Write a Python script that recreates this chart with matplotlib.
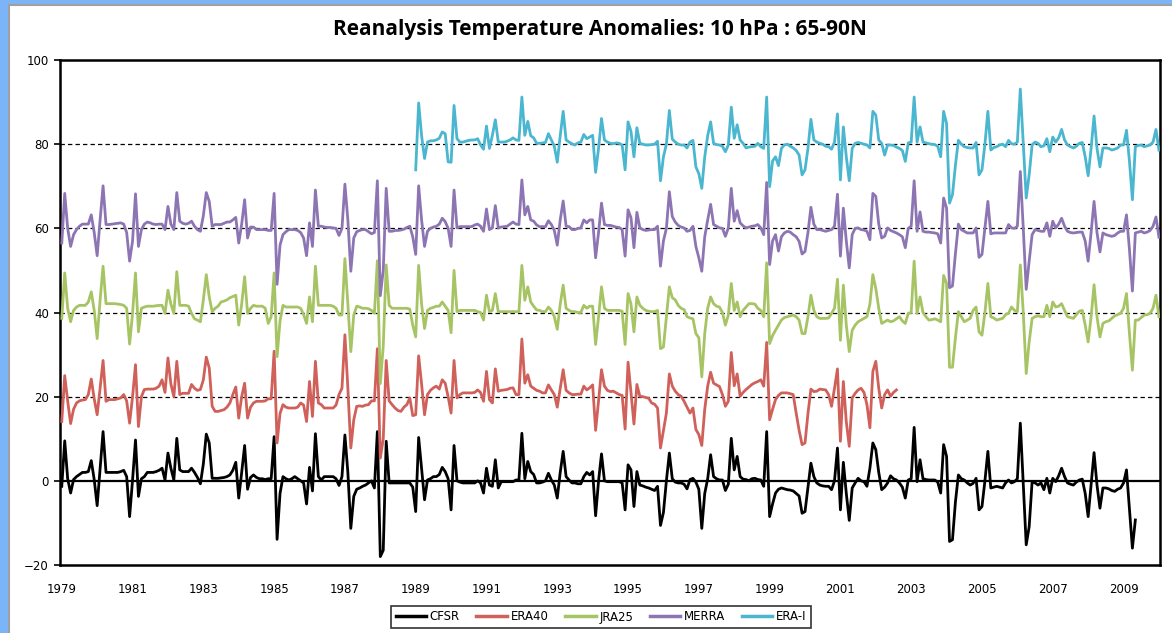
import numpy as np
import matplotlib
matplotlib.use("Agg")
import matplotlib.pyplot as plt
from matplotlib.patches import Rectangle

# monthly 10 hPa temperature anomalies (K), 65-90N
# CFSR: Jan 1979 - May 2009
cfsr = [
    -1.3, 9.5, 0.5, -2.9, 0.3, 1.0, 1.5, 2.0, 2.0, 2.2, 4.8, 0.3,
    -5.9, 3.0, 11.7, 2.0, 2.0, 2.0, 2.0, 2.0, 2.2, 2.5, 1.0, -8.5,
    0.2, 9.7, -3.7, 0.5, 1.0, 2.0, 2.0, 2.0, 2.2, 2.5, 3.0, 0.2,
    6.6, 3.0, 0.2, 10.1, 2.6, 2.2, 2.2, 2.2, 3.0, 2.0, 0.8, -0.7,
    4.0, 11.1, 9.0, 0.6, 0.6, 0.6, 0.7, 0.8, 1.0, 1.4, 2.5, 4.4,
    -4.1, 2.0, 8.4, -2.0, 0.8, 1.4, 0.8, 0.5, 0.5, 0.3, 0.5, 0.5,
    10.5, -13.9, -3.0, 1.0, 0.5, 0.2, 0.5, 1.0, 0.5, 0.0, -0.5, -5.5,
    3.2, -2.4, 11.2, 1.0, 0.2, 1.0, 1.0, 1.0, 1.0, 0.5, -1.1, 1.0,
    10.9, 2.0, -11.3, -3.7, -2.0, -1.7, -1.3, -1.0, -0.5, 0.0, -1.7, 11.7,
    -18.0, -16.5, 9.4, -0.5, -0.5, -0.5, -0.5, -0.5, -0.5, -0.5, -0.5, -1.5,
    -7.3, 10.3, 3.0, -4.5, 0.2, 0.5, 1.0, 1.0, 1.5, 3.2, 2.2, 0.5,
    -6.9, 8.4, 0.0, -0.3, -0.5, -0.5, -0.5, -0.5, -0.5, 0.0, -0.5, -2.9,
    3.0, -1.0, -1.3, 5.0, -1.7, -0.2, -0.2, -0.2, -0.2, -0.2, 0.2, 0.2,
    11.3, 0.5, 4.6, 2.2, 1.5, -0.5, -0.5, -0.3, 0.0, 1.8, 0.2, -1.0,
    -4.1, 2.0, 7.0, 1.0, 0.2, -0.5, -0.5, -0.7, -0.7, 1.0, 2.0, 1.4,
    2.2, -8.3, 0.0, 6.4, 0.0, -0.2, -0.2, -0.2, -0.2, -0.2, -0.5, -6.9,
    3.8, 2.6, -6.1, 2.2, -1.0, -1.2, -1.5, -1.7, -2.0, -2.3, -1.3, -10.6,
    -7.5, 0.0, 6.6, 0.5, -0.3, -0.5, -0.5, -0.8, -1.9, 0.3, 0.6, -0.3,
    -2.0, -11.3, -3.0, 0.5, 6.2, 1.0, 0.5, 0.2, 0.2, -2.3, -0.8, 10.1,
    2.6, 5.8, 1.0, 0.4, 0.3, 0.0, 0.5, 0.6, 0.3, 0.2, -1.3, 11.7,
    -8.5, -5.5, -2.9, -2.0, -1.7, -1.9, -2.1, -2.2, -2.4, -3.0, -3.6, -7.7,
    -7.3, -1.5, 4.2, 1.0, -0.5, -1.0, -1.2, -1.3, -1.3, -2.1, 0.0, 7.8,
    -6.9, 4.4, -3.0, -9.4, -1.7, -0.5, 0.6, 0.0, -0.2, -1.3, 3.0, 9.0,
    7.4, 2.0, -2.1, -1.5, -0.5, 1.2, 0.5, 0.2, -0.5, -1.5, -4.1, 0.2,
    0.5, 12.7, -0.2, 5.0, 0.5, 0.3, 0.2, 0.2, 0.2, -0.3, -2.9, 8.6,
    5.8, -14.4, -14.0, -5.0, 1.4, 0.5, 0.2, -0.5, -1.0, -0.6, 0.6, -6.9,
    -6.1, 0.0, 7.0, -1.7, -1.5, -1.3, -1.5, -1.7, -0.5, 0.2, -0.5, -0.2,
    0.5, 13.7, -0.8, -15.2, -10.9, -0.2, -0.5, -1.0, -0.5, -2.1, 0.6, -2.9,
    0.6, -0.2, 1.2, 3.0, 1.0, -0.5, -0.8, -1.0, -0.3, 0.2, 0.4, -3.0,
    -8.5, -1.0, 6.7, -1.0, -6.5, -1.7, -1.7, -1.9, -2.3, -2.5, -2.0, -1.7,
    -0.5, 2.6, -6.7, -16.0, -9.3,
]

# ERA40: Jan 1979 - Aug 2002
era40 = [
    -5.9, 5.0, -1.0, -6.4, -3.0, -1.5, -1.0, -0.8, -0.7, 0.5, 4.2, -0.5,
    -4.3, 2.0, 8.6, -1.1, -0.7, -0.7, -0.7, -0.5, -0.3, 0.5, -1.0, -6.3,
    0.0, 7.6, -7.1, 0.0, 1.7, 1.8, 1.8, 1.8, 2.0, 2.5, 4.0, 1.0,
    9.2, 3.0, 0.0, 8.4, 0.5, 0.8, 0.8, 0.8, 2.9, 2.0, 1.5, 1.7,
    4.0, 9.4, 6.8, -2.3, -3.5, -3.5, -3.3, -3.1, -2.5, -1.5, 0.5, 2.3,
    -5.1, 0.0, 3.2, -5.1, -2.5, -1.5, -1.1, -1.1, -1.1, -1.0, -0.5, -0.5,
    10.8, -11.0, -4.0, -1.9, -2.5, -2.7, -2.7, -2.7, -2.5, -1.5, -2.0, -5.9,
    3.6, -4.7, 8.4, -1.5, -1.9, -2.7, -2.7, -2.7, -2.7, -2.0, 0.5, 2.0,
    14.7, 2.0, -12.2, -5.5, -2.3, -2.2, -2.3, -2.0, -1.9, -1.0, -1.0, 11.4,
    -14.6, -10.0, 8.6, -1.0, -1.9, -2.7, -3.3, -3.5, -2.5, -1.9, -0.3, -4.5,
    -4.3, 9.7, 3.0, -4.3, 0.5, 1.5, 2.1, 2.5, 1.8, 4.0, 3.2, 0.0,
    -3.9, 8.6, -0.3, 0.5, 0.9, 0.9, 0.9, 0.9, 1.0, 1.6, 1.0, -1.1,
    6.0, -0.7, -1.5, 6.6, 1.3, 1.5, 1.6, 1.7, 2.0, 2.1, 0.5, 0.5,
    13.7, 3.2, 5.2, 2.5, 2.0, 1.5, 1.3, 0.9, 0.9, 2.8, 1.6, 0.5,
    -2.5, 2.0, 6.4, 1.5, 0.9, 0.5, 0.5, 0.6, 0.6, 2.5, 1.6, 2.1,
    2.8, -8.0, -1.0, 6.4, 2.5, 1.5, 1.2, 1.3, 0.9, 0.5, 0.3, -7.7,
    8.2, 1.0, -6.5, 2.9, 0.1, 0.0, -0.2, -0.4, -1.5, -1.8, -2.7, -12.2,
    -8.0, -3.9, 5.4, 2.5, 1.3, 0.5, 0.1, -1.1, -2.5, -3.9, -2.7, -7.8,
    -9.0, -11.6, -3.0, 2.5, 5.8, 3.2, 2.8, 2.4, 0.5, -2.3, -1.1, 10.5,
    2.6, 5.4, 0.1, 1.0, 1.7, 2.3, 2.9, 3.3, 3.6, 4.0, 2.5, 12.9,
    -5.5, -3.0, -0.7, 0.3, 0.9, 0.9, 0.9, 0.7, 0.5, -3.9, -8.0, -11.4,
    -11.0, -4.0, 1.8, 1.2, 1.3, 1.8, 1.7, 1.6, 0.5, -2.3, 2.0, 6.6,
    -10.6, 3.6, -6.0, -11.8, -0.3, 0.8, 1.6, 2.0, 1.0, -1.9, -7.4, 6.0,
    8.4, 2.0, -2.7, 0.5, 1.6, 0.1, 1.0, 1.6,
]

# JRA25: Jan 1979 - Jan 2010
jra25 = [
    -1.4, 9.4, 1.0, -2.2, 0.5, 1.3, 1.7, 1.7, 1.7, 2.5, 4.9, 0.5,
    -6.2, 3.0, 11.0, 2.1, 2.1, 2.1, 2.1, 2.0, 1.9, 1.7, 1.0, -7.5,
    -0.2, 9.4, -4.6, 1.0, 1.3, 1.5, 1.5, 1.5, 1.6, 1.7, 1.7, -0.2,
    5.3, 2.0, -0.2, 9.7, 1.7, 1.7, 1.7, 1.5, -0.2, -1.5, -1.8, -2.2,
    3.0, 9.0, 3.7, 0.2, 1.0, 1.5, 2.5, 2.7, 3.0, 3.5, 3.8, 4.1,
    -3.0, 2.0, 8.5, -0.2, 1.0, 1.7, 1.5, 1.5, 1.5, 1.0, -2.6, -1.0,
    9.4, -10.5, -2.0, 1.7, 1.3, 1.3, 1.3, 1.3, 1.3, 1.0, -0.5, -2.6,
    3.7, -2.2, 11.0, 1.7, 1.7, 1.7, 1.7, 1.7, 1.5, 1.0, -0.6, -0.6,
    12.8, 2.0, -9.3, -0.6, 1.5, 1.3, 1.0, 1.0, 0.9, 0.5, -0.2, 12.3,
    -16.9, -8.0, 11.3, 1.7, 1.0, 1.0, 1.0, 1.0, 1.0, 1.0, 0.8, -3.0,
    -5.8, 11.2, 2.0, -3.8, 0.5, 1.0, 1.2, 1.5, 1.5, 2.5, 1.5, 0.5,
    -4.8, 10.0, 0.2, 0.5, 0.5, 0.5, 0.5, 0.5, 0.5, 0.2, 0.0, -1.8,
    4.1, 0.2, 0.5, 4.5, 0.2, 0.2, 0.2, 0.2, 0.2, 0.2, 0.2, 0.2,
    11.2, 2.9, 6.1, 2.5, 1.5, 0.6, 0.5, 0.2, 0.2, 1.3, 0.5, -1.0,
    -4.0, 2.0, 6.5, 1.0, 0.5, 0.2, 0.2, 0.0, 0.0, 1.7, 1.0, 1.5,
    1.5, -7.6, -1.0, 6.1, 1.0, 0.5, 0.5, 0.5, 0.5, 0.5, 0.3, -7.6,
    4.5, 2.0, -4.6, 3.7, 1.7, 1.0, 0.5, 0.3, 0.2, 0.2, 0.5, -8.6,
    -8.2, -1.0, 6.1, 3.5, 3.0, 1.7, 1.0, 0.7, -1.0, -1.3, -1.5, -5.0,
    -6.0, -15.3, -5.0, 1.0, 3.7, 2.1, 1.5, 1.3, 0.0, -3.0, -0.6, 6.9,
    0.5, 2.5, -1.0, 0.5, 1.3, 2.1, 2.1, 2.0, 1.0, 0.5, -1.0, 11.8,
    -7.4, -5.5, -4.2, -3.0, -1.8, -1.2, -1.0, -0.8, -0.6, -1.0, -1.8, -5.0,
    -5.0, -1.0, 4.1, 0.5, -1.0, -1.4, -1.4, -1.4, -1.3, -0.2, 1.0, 7.9,
    -6.6, 6.5, -3.0, -9.3, -4.2, -3.0, -2.2, -1.8, -1.4, -1.0, 2.0, 9.0,
    5.7, 1.0, -2.6, -2.2, -1.8, -2.2, -2.0, -1.5, -1.0, -2.0, -2.6, -0.2,
    0.0, 12.2, -0.2, 3.7, 0.0, -1.0, -1.8, -1.7, -1.5, -1.8, -2.2, 8.8,
    6.9, -13.0, -13.0, -6.0, 0.2, -1.0, -2.2, -1.8, -1.4, 0.5, 1.3, -4.6,
    -5.4, 0.0, 6.9, -1.0, -1.3, -1.8, -1.6, -1.4, -0.5, -0.2, 1.3, 0.5,
    0.2, 11.3, 0.0, -14.5, -7.0, -1.4, -1.0, -0.8, -1.0, -1.0, 1.7, -1.0,
    2.5, 1.3, 1.5, 2.1, 0.5, -1.0, -1.2, -1.4, -0.5, 0.3, 0.5, -3.0,
    -7.0, -1.0, 6.6, -1.0, -5.8, -2.6, -2.2, -2.0, -1.4, -0.8, -0.5, -0.2,
    1.0, 4.5, -5.0, -13.7, -1.8, -1.8, -1.2, -0.6, -0.5, -0.2, 1.0, 4.1,
    -1.0,
]

# MERRA: Jan 1979 - Jan 2010
merra = [
    -3.5, 8.3, 0.0, -4.3, -1.5, -0.3, 0.5, 1.0, 1.0, 1.0, 3.2, -1.0,
    -6.5, 2.0, 10.1, 0.9, 0.9, 1.0, 1.1, 1.2, 1.3, 1.0, -1.0, -7.8,
    -3.0, 8.2, -4.3, -0.3, 1.0, 1.5, 1.3, 1.0, 0.9, 1.0, 1.0, -0.3,
    5.2, 1.0, -0.3, 8.5, 1.7, 1.2, 1.0, 1.2, 1.7, 0.5, -0.3, -0.7,
    3.0, 8.5, 6.4, 0.5, 0.9, 0.9, 0.9, 1.2, 1.5, 1.5, 2.0, 2.6,
    -3.5, 1.0, 6.8, -2.3, 0.3, 0.3, -0.3, -0.3, -0.3, -0.3, -0.5, -0.5,
    8.3, -13.3, -4.0, -1.5, -0.8, -0.3, -0.3, -0.3, -0.5, -1.0, -2.3, -6.5,
    1.3, -4.3, 9.1, 0.5, 0.5, 0.3, 0.2, 0.2, 0.1, 0.0, -1.7, 0.0,
    10.5, 2.0, -10.2, -2.3, -0.8, -0.5, -0.3, -0.3, -0.8, -1.3, -1.0, 11.3,
    -16.0, -10.0, 9.5, -0.7, -0.7, -0.5, -0.5, -0.4, -0.2, 0.2, 0.5, -2.0,
    -6.2, 10.1, 2.0, -4.3, -0.7, 0.0, 0.3, 0.5, 1.0, 2.4, 1.6, 0.0,
    -4.3, 9.1, 0.1, 0.4, 0.4, 0.4, 0.4, 0.4, 0.8, 1.0, 0.5, -0.7,
    4.6, -0.3, 0.1, 5.4, 0.1, 0.3, 0.4, 0.5, 1.0, 1.5, 1.0, 0.9,
    11.5, 3.2, 5.2, 2.0, 1.7, 0.8, 0.4, 0.4, 0.4, 1.8, 0.9, -0.5,
    -4.0, 2.0, 6.5, 0.5, 0.4, -0.3, -0.3, 0.0, 0.1, 2.0, 1.3, 2.0,
    2.0, -7.0, -1.0, 6.0, 0.9, 0.7, 0.7, 0.5, 0.3, 0.2, -0.3, -6.6,
    4.4, 2.5, -4.6, 3.8, 0.1, -0.3, -0.5, -0.4, -0.3, -0.3, 0.5, -9.0,
    -3.0, 0.0, 8.7, 2.8, 1.5, 0.7, 0.3, 0.1, -0.7, -0.5, 0.5, -4.3,
    -7.0, -10.2, -2.0, 2.0, 5.7, 0.9, 0.5, 0.1, 0.0, -1.9, 0.1, 9.5,
    1.7, 4.2, 1.3, 0.6, 0.1, 0.3, 0.5, 0.6, 0.9, 0.1, -1.5, 10.9,
    -8.6, -3.0, -1.5, -5.4, -2.0, -1.1, -0.7, -0.9, -1.5, -2.0, -3.1, -6.1,
    -5.5, -1.0, 5.0, 1.0, -0.3, -0.3, -0.5, -0.7, -0.5, -0.3, 0.5, 8.1,
    -6.6, 4.8, -3.0, -9.4, -1.5, 0.0, 0.1, -0.3, -0.4, -0.7, -2.7, 8.3,
    7.6, 1.0, -2.3, -1.9, 0.1, -0.5, -0.8, -1.1, -1.5, -2.0, -4.6, 0.0,
    0.5, 11.3, -0.7, 3.9, -0.7, -0.9, -0.9, -1.0, -1.1, -1.3, -3.5, 7.2,
    4.8, -14.1, -13.7, -6.0, 1.0, -0.3, -0.7, -1.1, -1.1, -1.1, 0.1, -6.9,
    -6.2, 0.0, 6.4, -1.3, -1.1, -1.1, -1.1, -1.1, -1.1, 0.9, 0.1, 0.0,
    0.5, 13.5, 0.0, -14.5, -7.8, -1.5, -0.3, -0.5, -0.7, -0.7, 1.3, -1.9,
    1.7, 0.1, 1.0, 2.4, 0.5, -0.7, -1.0, -1.1, -1.0, -0.9, -0.9, -3.0,
    -7.8, -1.0, 6.4, -1.0, -5.6, -1.1, -1.5, -1.7, -1.9, -1.7, -1.1, -0.7,
    -0.7, 3.2, -5.0, -14.9, -1.1, -0.9, -0.7, -1.1, -0.9, -0.5, 0.5, 2.7,
    -2.1,
]

# ERA-Interim: Jan 1989 - Jan 2010
erai = [
    -6.1, 9.8, 2.0, -3.4, 0.5, 0.8, 0.8, 1.0, 1.4, 2.9, 2.5, -4.2,
    -4.3, 9.2, 1.3, 0.5, 0.5, 0.7, 0.9, 1.0, 1.0, 1.3, -0.2, -1.2,
    4.3, -1.0, 2.1, 5.8, 0.5, 0.5, 0.5, 0.7, 1.0, 1.5, 1.0, 0.9,
    11.2, 2.1, 5.4, 2.0, 1.5, 0.2, 0.2, 0.3, 0.4, 2.5, 1.0, -0.5,
    -4.3, 2.0, 7.8, 1.0, 0.5, 0.1, -0.2, 0.3, 0.5, 2.3, 1.3, 1.7,
    2.1, -6.7, -1.0, 6.1, 1.0, 0.5, 0.2, 0.1, 0.3, 0.2, -0.2, -6.1,
    5.3, 3.0, -3.0, 3.9, 0.2, 0.0, -0.2, -0.2, -0.1, 0.0, 0.7, -8.7,
    -3.0, 0.0, 8.0, 1.2, 0.5, 0.0, -0.2, -0.2, -0.9, 0.5, 0.9, -5.4,
    -7.0, -10.5, -3.0, 2.0, 5.3, 0.2, -0.1, -0.2, -0.5, -1.8, -0.2, 8.8,
    1.4, 4.6, 1.0, 0.2, -0.9, -0.7, -0.6, -0.5, 0.2, -0.6, -1.0, 11.2,
    -10.1, -4.0, -3.0, -5.1, -1.0, -0.2, 0.0, -0.5, -0.9, -1.5, -2.6, -7.3,
    -6.1, -1.0, 5.9, 1.0, 0.5, 0.2, 0.0, -0.5, -0.6, -1.2, 0.5, 7.2,
    -8.5, 4.1, -3.0, -8.7, -1.0, 0.2, 0.4, 0.2, 0.0, -0.2, -0.9, 7.8,
    6.9, 1.0, 0.2, -2.6, -0.2, -0.2, -0.3, -0.7, -1.0, -1.5, -4.1, 0.3,
    0.5, 11.2, 0.5, 4.1, 0.5, 0.3, 0.1, 0.0, -0.1, -0.5, -3.0, 7.8,
    4.9, -14.0, -12.0, -5.0, 0.9, 0.0, -0.6, -0.8, -0.9, -0.9, 0.4, -7.3,
    -6.1, 0.0, 7.8, -1.4, -0.8, -0.6, -0.2, 0.0, -0.6, 0.9, 0.1, 0.0,
    0.5, 13.1, 0.0, -12.8, -7.3, -0.2, 0.5, 0.2, -0.6, -0.4, 1.3, -1.8,
    1.7, 0.5, 1.5, 3.5, 1.0, -0.2, -0.6, -0.9, -0.5, 0.2, 0.4, -3.0,
    -7.5, -1.0, 6.7, -1.0, -5.4, -0.9, -0.9, -1.0, -1.4, -1.2, -0.9, -0.2,
    -0.2, 3.3, -4.0, -13.2, -0.6, -0.3, -0.2, -0.6, -0.4, -0.2, 0.5, 3.5,
    -1.4,
]

names = ["CFSR", "ERA40", "JRA25", "MERRA", "ERA-I"]
series = [cfsr, era40, jra25, merra, erai]
start_years = [1979, 1979, 1979, 1979, 1989]
offsets = [0, 20, 40, 60, 80]   # each curve is shifted up by 20 on the chart
colors = ["#000000", "#d0605a", "#a6c464", "#8d75b3", "#4ab6cf"]

W, H = 1172, 633
fig = plt.figure(figsize=(W / 100, H / 100), dpi=100, facecolor="#7cb4f8")
# white chart area inside the blue window frame
fig.patches.append(Rectangle((9 / W, -0.01), 1, 1 - 5 / H + 0.01, transform=fig.transFigure,
                             facecolor="white", edgecolor="#a0a0a0", lw=1.5, zorder=-10))

ax = fig.add_axes([60 / W, 1 - 565 / H, 1100 / W, 505 / H])
ax.set_zorder(1)

lines = []
for name, vals, y0, off, c in zip(names, series, start_years, offsets, colors):
    t = y0 + np.arange(len(vals)) / 12.0
    ln, = ax.plot(t, np.array(vals) + off, color=c, lw=2.0, label=name,
                  solid_joinstyle="round", zorder=3)
    lines.append(ln)

for g in (20, 40, 60, 80):
    ax.axhline(g, color="black", lw=0.9, ls=(0, (3.5, 2.5)), zorder=1)
ax.axhline(0, color="black", lw=1.6, zorder=2)

ax.set_xlim(1978.95, 2010.03)
ax.set_ylim(-20, 100)
ax.set_yticks(range(-20, 101, 20))
ax.set_xticks(range(1979, 2010, 2))
ax.tick_params(axis="y", length=4, width=1.2, pad=4, labelsize=8.5)
ax.tick_params(axis="x", length=0, pad=13, labelsize=8.5)
for s in ax.spines.values():
    s.set_linewidth(1.8)
    s.set_color("black")

fig.text(600 / W, 1 - 30 / H, "Reanalysis Temperature Anomalies: 10 hPa : 65-90N",
         ha="center", va="center", fontsize=15, fontweight="bold", family="Open Sans")

leg = fig.legend(handles=lines, loc="center", bbox_to_anchor=(601 / W, 1 - 617 / H),
                 ncol=5, frameon=True, fancybox=False, edgecolor="black",
                 fontsize=8.5, handlelength=2.6, columnspacing=1.4,
                 handletextpad=0.3, borderpad=0.35)
leg.get_frame().set_linewidth(1.2)
for h in leg.get_lines():
    h.set_linewidth(2.5)

fig.savefig("out.png", dpi=100, facecolor=fig.get_facecolor())
